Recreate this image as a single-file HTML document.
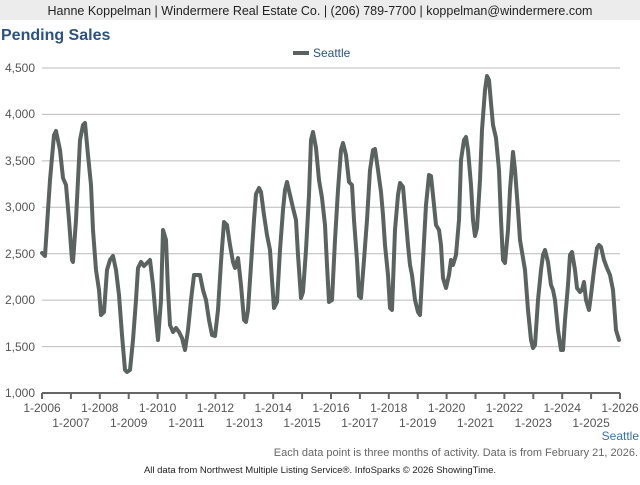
<!DOCTYPE html>
<html><head><meta charset="utf-8"><style>
body{margin:0;width:640px;height:480px;background:#fff;font-family:"Liberation Sans",sans-serif;overflow:hidden}
</style></head><body>
<svg width="640" height="480" xmlns="http://www.w3.org/2000/svg" font-family="Liberation Sans, sans-serif">
<rect x="0" y="0" width="640" height="20" fill="#ececec"/>
<text x="320" y="15" text-anchor="middle" font-size="12.5" fill="#222">Hanne Koppelman | Windermere Real Estate Co. | (206) 789-7700 | koppelman@windermere.com</text>
<text x="1" y="40" font-size="16" font-weight="bold" fill="#2c5380">Pending Sales</text>
<rect x="293" y="51" width="16" height="4" fill="#5a6360"/>
<text x="313" y="57" font-size="12" fill="#2c5380">Seattle</text>
<g stroke="#bbb" stroke-width="1">
<line x1="42" y1="68" x2="620" y2="68"/><line x1="42" y1="114.4" x2="620" y2="114.4"/><line x1="42" y1="160.9" x2="620" y2="160.9"/><line x1="42" y1="207.3" x2="620" y2="207.3"/><line x1="42" y1="253.7" x2="620" y2="253.7"/><line x1="42" y1="300.1" x2="620" y2="300.1"/><line x1="42" y1="346.6" x2="620" y2="346.6"/>
</g>
<g font-size="12" fill="#555" text-anchor="end">
<text x="35" y="72">4,500</text><text x="35" y="118">4,000</text><text x="35" y="165">3,500</text><text x="35" y="211">3,000</text><text x="35" y="258">2,500</text><text x="35" y="304">2,000</text><text x="35" y="351">1,500</text><text x="35" y="397">1,000</text>
</g>
<line x1="42" y1="393" x2="620" y2="393" stroke="#666" stroke-width="2"/>
<g stroke="#666" stroke-width="2" id="ticks"></g>
<polyline fill="none" stroke="#5a6360" stroke-width="4" stroke-linejoin="round" stroke-linecap="round" points="42,253 45,256 50,180 54,135 56,131 60,150 63,178 66,185 69,220 72,260 73,262 76,220 80,140 83,125 85,123 88,155 91,185 93,230 96,270 99,290 101,315 104,312 107,270 110,260 113,256 116,270 119,295 122,335 125,370 127,372 130,370 133,340 136,300 138,268 141,262 144,266 147,263 150,260 153,285 156,320 158,340 161,300 163,230 166,240 168,290 170,325 173,332 176,328 179,332 182,338 185,350 188,330 191,300 194,275 197,275 200,275 203,290 206,300 209,320 212,335 215,336 218,310 221,262 224,222 227,225 230,245 233,262 235,268 238,258 241,285 244,320 246,322 248,310 251,265 254,220 256,194 259,188 261,192 264,215 267,235 270,250 272,280 274,308 277,302 280,250 283,210 285,190 287,182 290,195 293,208 296,220 298,255 301,298 303,292 306,250 309,195 311,140 313,132 316,148 319,180 322,198 325,225 327,265 329,302 332,300 335,240 338,190 341,150 343,143 346,155 349,182 352,185 354,220 357,260 359,296 361,298 364,260 367,220 370,170 373,150 375,149 378,170 381,192 383,215 385,245 388,275 390,308 392,310 395,230 398,195 400,183 403,187 405,210 408,245 410,265 412,275 415,300 418,312 420,315 423,260 426,205 429,175 431,176 434,205 436,225 439,230 441,245 443,278 446,288 449,275 451,260 453,265 456,255 459,220 461,160 464,140 466,137 468,150 471,185 473,220 475,236 477,228 480,180 482,130 485,90 487,76 489,80 491,103 493,125 496,138 499,170 501,220 503,260 505,263 508,230 510,190 513,152 515,170 518,210 520,240 523,258 525,270 528,310 531,340 533,348 535,345 538,300 541,270 543,255 545,250 548,262 551,285 553,290 555,300 558,330 561,350 563,350 565,320 568,285 570,255 572,252 575,270 577,288 580,292 582,290 584,282 586,300 589,310 591,295 594,270 597,248 599,245 601,247 604,260 607,268 610,275 613,290 616,330 619,340"/>
<g stroke="#666" stroke-width="2">
<line x1="42.0" y1="393" x2="42.0" y2="399"/><line x1="70.9" y1="393" x2="70.9" y2="399"/><line x1="99.8" y1="393" x2="99.8" y2="399"/><line x1="128.7" y1="393" x2="128.7" y2="399"/><line x1="157.6" y1="393" x2="157.6" y2="399"/><line x1="186.5" y1="393" x2="186.5" y2="399"/><line x1="215.4" y1="393" x2="215.4" y2="399"/><line x1="244.3" y1="393" x2="244.3" y2="399"/><line x1="273.2" y1="393" x2="273.2" y2="399"/><line x1="302.1" y1="393" x2="302.1" y2="399"/><line x1="331.0" y1="393" x2="331.0" y2="399"/><line x1="359.9" y1="393" x2="359.9" y2="399"/><line x1="388.8" y1="393" x2="388.8" y2="399"/><line x1="417.7" y1="393" x2="417.7" y2="399"/><line x1="446.6" y1="393" x2="446.6" y2="399"/><line x1="475.5" y1="393" x2="475.5" y2="399"/><line x1="504.4" y1="393" x2="504.4" y2="399"/><line x1="533.3" y1="393" x2="533.3" y2="399"/><line x1="562.2" y1="393" x2="562.2" y2="399"/><line x1="591.1" y1="393" x2="591.1" y2="399"/><line x1="620.0" y1="393" x2="620.0" y2="399"/>
</g>
<g font-size="12" fill="#555" text-anchor="middle">
<text x="42" y="412">1-2006</text><text x="99.8" y="412">1-2008</text><text x="157.6" y="412">1-2010</text><text x="215.4" y="412">1-2012</text><text x="273.2" y="412">1-2014</text><text x="331" y="412">1-2016</text><text x="388.8" y="412">1-2018</text><text x="446.6" y="412">1-2020</text><text x="504.4" y="412">1-2022</text><text x="562.2" y="412">1-2024</text><text x="620" y="412">1-2026</text>
<text x="70.9" y="427">1-2007</text><text x="128.7" y="427">1-2009</text><text x="186.5" y="427">1-2011</text><text x="244.3" y="427">1-2013</text><text x="302.1" y="427">1-2015</text><text x="359.9" y="427">1-2017</text><text x="417.7" y="427">1-2019</text><text x="475.5" y="427">1-2021</text><text x="533.3" y="427">1-2023</text><text x="591.1" y="427">1-2025</text>
</g>
<text x="639" y="440" text-anchor="end" font-size="12" fill="#3f6fa5">Seattle</text>
<text x="638" y="456" text-anchor="end" font-size="11" fill="#666">Each data point is three months of activity. Data is from February 21, 2026.</text>
<text x="320" y="473" text-anchor="middle" font-size="9.5" fill="#222">All data from Northwest Multiple Listing Service®. InfoSparks © 2026 ShowingTime.</text>
</svg>
</body></html>
